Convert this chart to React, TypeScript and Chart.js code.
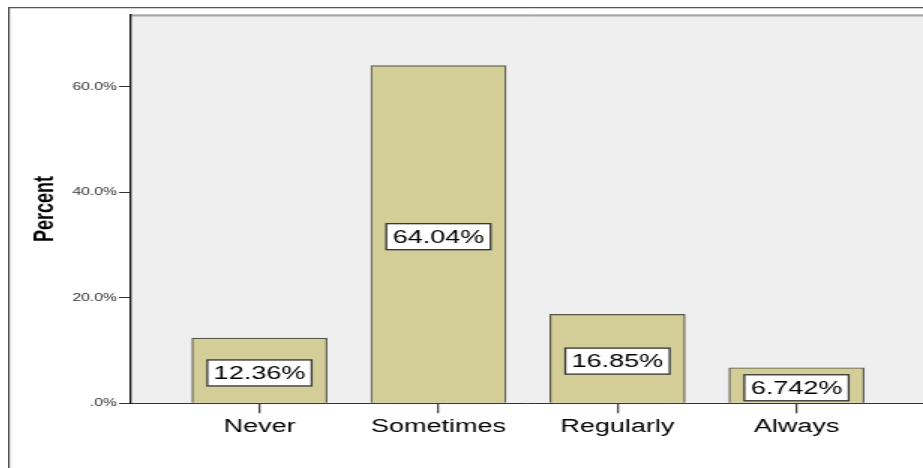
import React, { useEffect, useRef } from 'react';
import { Chart, registerables } from 'chart.js';

Chart.register(...registerables);

// ---- data ----
const categories = ['Never', 'Sometimes', 'Regularly', 'Always'];
const percents = [12.36, 64.04, 16.85, 6.742];
const yTickValues = [0, 20, 40, 60];
const yTickLabels = ['.0%', '20.0%', '40.0%', '60.0%'];
const yAxisTitle = 'Percent';

// ---- scale ranges ----
const yMax = 73.7;
const xMin = 0.2765;
const xMax = 4.7235;

// the original image is stretched horizontally; reproduce via CSS stretch
const STRETCH = 1.5;
const CSS_W = 930;
const CSS_H = 470;

const FONT = "'Liberation Sans', Arial, sans-serif";

const framePlugin = {
  id: 'frame',
  beforeDraw(chart: any) {
    const { ctx, chartArea, width, height } = chart;
    ctx.save();
    ctx.fillStyle = '#ffffff';
    ctx.fillRect(0, 0, width, height);
    // outer frame
    ctx.strokeStyle = '#555555';
    ctx.lineWidth = 1.2;
    ctx.beginPath();
    ctx.moveTo(0.6, height);
    ctx.lineTo(0.6, 0.6);
    ctx.lineTo(width, 0.6);
    ctx.stroke();
    // plot background
    ctx.fillStyle = '#efefef';
    ctx.fillRect(chartArea.left, chartArea.top, chartArea.right - chartArea.left, chartArea.bottom - chartArea.top);
    // plot top border (double line)
    ctx.strokeStyle = '#6a6a6a';
    ctx.lineWidth = 1;
    ctx.beginPath();
    ctx.moveTo(chartArea.left, chartArea.top + 0.5);
    ctx.lineTo(width, chartArea.top + 0.5);
    ctx.stroke();
    ctx.strokeStyle = '#b0b0b0';
    ctx.beginPath();
    ctx.moveTo(chartArea.left, chartArea.top + 1.5);
    ctx.lineTo(width, chartArea.top + 1.5);
    ctx.stroke();
    ctx.restore();
  },
  afterDatasetsDraw(chart: any) {
    const { ctx } = chart;
    const meta = chart.getDatasetMeta(0);
    ctx.save();
    ctx.font = `18px ${FONT}`;
    ctx.textAlign = 'center';
    ctx.textBaseline = 'middle';
    meta.data.forEach((bar: any, i: number) => {
      const text = percents[i].toPrecision(4) + '%';
      const cx = bar.x;
      const cy = (bar.y + bar.base) / 2 + 2.5;
      const tw = ctx.measureText(text).width;
      const bw = tw + 8.5;
      const bh = 26;
      ctx.fillStyle = '#ffffff';
      ctx.fillRect(cx - bw / 2, cy - bh / 2, bw, bh);
      ctx.strokeStyle = '#333333';
      ctx.lineWidth = 1.3;
      ctx.strokeRect(cx - bw / 2, cy - bh / 2, bw, bh);
      ctx.fillStyle = '#000000';
      ctx.fillText(text, cx, cy + 1);
    });
    ctx.restore();
  },
};

export default function App() {
  const ref = useRef<HTMLCanvasElement | null>(null);

  useEffect(() => {
    if (!ref.current) return;
    const chart = new Chart(ref.current, {
      type: 'bar',
      data: {
        datasets: [
          {
            label: yAxisTitle,
            data: percents.map((v, i) => ({ x: i + 1, y: v })),
            backgroundColor: '#d3cd98',
            borderColor: '#55554a',
            borderWidth: 1.2,
            borderSkipped: 'bottom',
            barThickness: 90,
          } as any,
        ],
      },
      options: {
        responsive: false,
        animation: false,
        devicePixelRatio: 1,
        layout: { padding: { top: 4.5, left: 0, right: 8, bottom: 0 } },
        plugins: {
          legend: { display: false },
          tooltip: { enabled: false },
        },
        scales: {
          x: {
            type: 'linear',
            min: xMin,
            max: xMax,
            offset: false,
            afterBuildTicks: (axis: any) => {
              axis.ticks = categories.map((_, i) => ({ value: i + 1 }));
            },
            afterFit: (axis: any) => {
              axis.height = 73.7;
            },
            grid: {
              display: true,
              offset: false,
              drawOnChartArea: false,
              drawTicks: true,
              tickLength: 10,
              color: '#444444',
              lineWidth: 1.3,
            },
            border: { display: true, color: '#333333', width: 1 },
            ticks: {
              autoSkip: false,
              maxRotation: 0,
              padding: 3,
              color: '#000000',
              font: { family: FONT, size: 18 },
              callback: (v: any) => categories[Math.round(Number(v)) - 1] ?? '',
            },
          },
          y: {
            type: 'linear',
            min: 0,
            max: yMax,
            afterBuildTicks: (axis: any) => {
              axis.ticks = yTickValues.map((v) => ({ value: v }));
            },
            afterFit: (axis: any) => {
              axis.width = 81.3;
            },
            grid: {
              display: true,
              offset: false,
              drawOnChartArea: false,
              drawTicks: true,
              tickLength: 7.3,
              color: '#333333',
            },
            border: { display: true, color: '#111111', width: 1.3 },
            ticks: {
              padding: 1.3,
              color: '#333333',
              font: { family: FONT, size: 10.5 },
              callback: (v: any) => {
                const idx = yTickValues.indexOf(Number(v));
                return idx >= 0 ? yTickLabels[idx] : '';
              },
            },
            title: {
              display: true,
              text: yAxisTitle,
              color: '#000000',
              font: { family: FONT, size: 18, weight: 'bold' },
              padding: { top: 14.5, bottom: 0 },
            },
          },
        },
      },
      plugins: [framePlugin],
    } as any);
    return () => chart.destroy();
  }, []);

  return (
    <div
      style={{
        position: 'fixed',
        left: 8,
        top: 7,
        width: 915,
        height: 461,
        overflow: 'hidden',
      }}
    >
      <canvas
        ref={ref}
        width={Math.round(CSS_W / STRETCH)}
        height={CSS_H}
        style={{ width: CSS_W + 'px', height: CSS_H + 'px', display: 'block' }}
      />
    </div>
  );
}
